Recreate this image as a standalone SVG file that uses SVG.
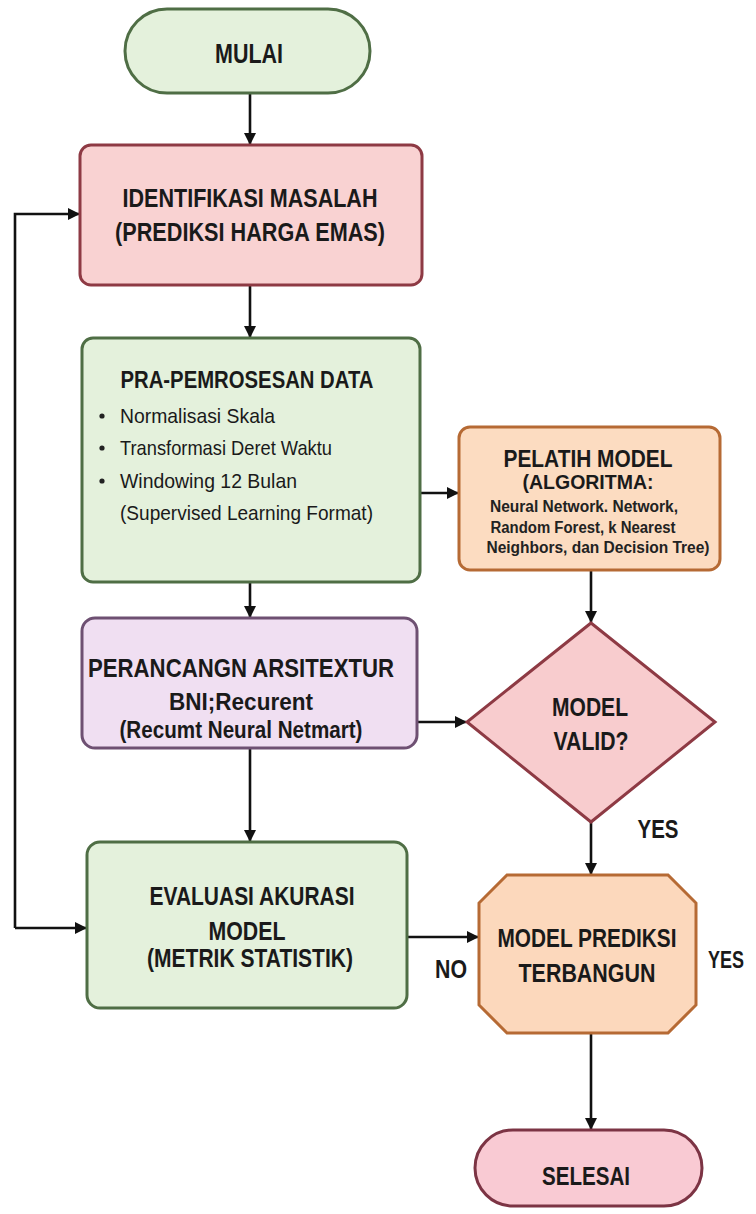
<svg xmlns="http://www.w3.org/2000/svg" width="756" height="1214" viewBox="0 0 756 1214">
<style>
.t{font-family:"Liberation Sans",Arial,sans-serif;font-weight:bold;fill:#1a1a1a;text-anchor:middle}
.s{font-family:"Liberation Sans",Arial,sans-serif;font-weight:normal;fill:#1a1a1a}
.sm{font-family:"Liberation Sans",Arial,sans-serif;font-weight:bold;fill:#222;text-anchor:middle}
.c{fill:none;stroke:#111;stroke-width:2.6}
.green{fill:#e4f1dc;stroke:#4f6e45;stroke-width:3}
.pink{fill:#f9d2d2;stroke:#8e3a44;stroke-width:3}
.peach{fill:#fcdcc1;stroke:#b66a34;stroke-width:3}
.lav{fill:#f0dff2;stroke:#6e5072;stroke-width:3}
</style>
<defs>
<marker id="ah" viewBox="0 0 12 12" refX="11" refY="6" markerWidth="12" markerHeight="12" markerUnits="userSpaceOnUse" orient="auto">
<path d="M0,0 L12,6 L0,12 Z" fill="#111"/>
</marker>
</defs>
<rect width="756" height="1214" fill="#ffffff"/>
<g id="connectors">
<path class="c" d="M250,93 V144" marker-end="url(#ah)"/>
<path class="c" d="M250,285 V337" marker-end="url(#ah)"/>
<path class="c" d="M420,493 H458" marker-end="url(#ah)"/>
<path class="c" d="M250,582 V617" marker-end="url(#ah)"/>
<path class="c" d="M591,570 V622" marker-end="url(#ah)"/>
<path class="c" d="M417,722 H466" marker-end="url(#ah)"/>
<path class="c" d="M250,748 V841" marker-end="url(#ah)"/>
<path class="c" d="M591,822 V874" marker-end="url(#ah)"/>
<path class="c" d="M407,937 H478" marker-end="url(#ah)"/>
<path class="c" d="M591,1033 V1129" marker-end="url(#ah)"/>
<path class="c" d="M15,928 V214 H79" marker-end="url(#ah)"/>
<path class="c" d="M15,928 H86" marker-end="url(#ah)"/>
<text class="t" x="451" y="978" font-size="25" textLength="32" lengthAdjust="spacingAndGlyphs">NO</text>
<text class="t" x="658" y="838" font-size="25" textLength="41" lengthAdjust="spacingAndGlyphs">YES</text>
<text class="t" x="726" y="968" font-size="23" textLength="36" lengthAdjust="spacingAndGlyphs">YES</text>
</g>
<g id="mulai">
<rect class="green" x="125" y="9" width="245" height="84" rx="42"/>
<text class="t" x="249" y="63" font-size="28" textLength="68" lengthAdjust="spacingAndGlyphs">MULAI</text>
</g>
<g id="identifikasi">
<rect class="pink" x="80" y="145" width="342" height="140" rx="11"/>
<text class="t" x="250" y="207" font-size="25" textLength="255" lengthAdjust="spacingAndGlyphs">IDENTIFIKASI MASALAH</text>
<text class="t" x="250" y="241" font-size="25" textLength="270" lengthAdjust="spacingAndGlyphs">(PREDIKSI HARGA EMAS)</text>
</g>
<g id="prapemrosesan">
<rect class="green" x="82" y="338" width="338" height="244" rx="11"/>
<text class="t" x="247" y="388" font-size="23" textLength="253" lengthAdjust="spacingAndGlyphs">PRA-PEMROSESAN DATA</text>
<circle cx="102" cy="416" r="2.6" fill="#222"/>
<circle cx="102" cy="448" r="2.6" fill="#222"/>
<circle cx="102" cy="481" r="2.6" fill="#222"/>
<text class="s" x="120" y="423" font-size="21" textLength="155" lengthAdjust="spacingAndGlyphs">Normalisasi Skala</text>
<text class="s" x="120" y="455" font-size="21" textLength="212" lengthAdjust="spacingAndGlyphs">Transformasi Deret Waktu</text>
<text class="s" x="120" y="488" font-size="21" textLength="177" lengthAdjust="spacingAndGlyphs">Windowing 12 Bulan</text>
<text class="s" x="120" y="520" font-size="21" textLength="253" lengthAdjust="spacingAndGlyphs">(Supervised Learning Format)</text>
</g>
<g id="pelatih">
<rect class="peach" x="459" y="427" width="261" height="143" rx="11"/>
<text class="t" x="588" y="467" font-size="23" textLength="169" lengthAdjust="spacingAndGlyphs">PELATIH MODEL</text>
<text class="t" x="588" y="489" font-size="20" textLength="131" lengthAdjust="spacingAndGlyphs">(ALGORITMA:</text>
<text class="sm" x="584" y="512" font-size="16" textLength="188" lengthAdjust="spacingAndGlyphs">Neural Network. Network,</text>
<text class="sm" x="583" y="533" font-size="16" textLength="185" lengthAdjust="spacingAndGlyphs">Random Forest, k Nearest</text>
<text class="sm" x="598" y="553" font-size="16" textLength="223" lengthAdjust="spacingAndGlyphs">Neighbors, dan Decision Tree)</text>
</g>
<g id="perancangan">
<rect class="lav" x="82" y="618" width="335" height="130" rx="13"/>
<text class="t" x="241" y="677" font-size="25" textLength="306" lengthAdjust="spacingAndGlyphs">PERANCANGN ARSITEXTUR</text>
<text class="t" x="241" y="710" font-size="23" textLength="144" lengthAdjust="spacingAndGlyphs">BNI;Recurent</text>
<text class="t" x="241" y="738" font-size="23" textLength="243" lengthAdjust="spacingAndGlyphs">(Recumt Neural Netmart)</text>
</g>
<g id="valid">
<polygon class="pink" points="591,623 715,722 591,822 467,722" style="fill:#f8ccce"/>
<text class="t" x="590" y="716" font-size="25" textLength="76" lengthAdjust="spacingAndGlyphs">MODEL</text>
<text class="t" x="591" y="750" font-size="25" textLength="75" lengthAdjust="spacingAndGlyphs">VALID?</text>
</g>
<g id="evaluasi">
<rect class="green" x="87" y="842" width="320" height="166" rx="13"/>
<text class="t" x="252" y="905" font-size="25" textLength="205" lengthAdjust="spacingAndGlyphs">EVALUASI AKURASI</text>
<text class="t" x="247" y="940" font-size="25" textLength="77" lengthAdjust="spacingAndGlyphs">MODEL</text>
<text class="t" x="250" y="967" font-size="25" textLength="206" lengthAdjust="spacingAndGlyphs">(METRIK STATISTIK)</text>
</g>
<g id="model-prediksi">
<polygon class="peach" points="507,875 668,875 696,903 696,1005 668,1033 507,1033 479,1005 479,903" style="fill:#fcd8bc"/>
<text class="t" x="587" y="947" font-size="25" textLength="179" lengthAdjust="spacingAndGlyphs">MODEL PREDIKSI</text>
<text class="t" x="587" y="982" font-size="25" textLength="137" lengthAdjust="spacingAndGlyphs">TERBANGUN</text>
</g>
<g id="selesai">
<rect x="475" y="1130" width="227" height="76" rx="38" fill="#f9cad3" stroke="#7c3444" stroke-width="3"/>
<text class="t" x="586" y="1185" font-size="25" textLength="88" lengthAdjust="spacingAndGlyphs">SELESAI</text>
</g>
</svg>
